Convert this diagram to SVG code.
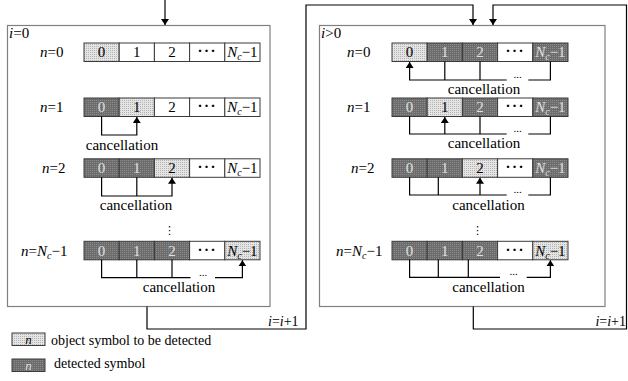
<svg xmlns="http://www.w3.org/2000/svg" width="628" height="381" viewBox="0 0 628 381">
  <defs>
    <!-- stipple fills for the two symbol states -->
    <pattern id="pat-obj" width="2" height="2" patternUnits="userSpaceOnUse">
      <rect width="2" height="2" fill="#e4e4e4"/>
      <rect width="1" height="1" fill="#b4b4b4"/>
    </pattern>
    <pattern id="pat-det" width="2" height="2" patternUnits="userSpaceOnUse">
      <rect width="2" height="2" fill="#6c6c6c"/>
      <rect width="1" height="1" fill="#8c8c8c"/>
    </pattern>
    <marker id="arr" viewBox="0 0 6 8" refX="6" refY="4" markerWidth="6" markerHeight="8" markerUnits="userSpaceOnUse" orient="auto">
      <path d="M0 0 L6 4 L0 8 Z" fill="#000"/>
    </marker>
  </defs>
  <style>
    text { font-family: "Liberation Serif", "Times New Roman", serif; font-size: 15px; fill: #000; }
    .it { font-style: italic; }
    .c { text-anchor: middle; }
    .panel { fill: #fff; stroke: #808080; stroke-width: 1.2; }
    .cell { stroke: #3a3a3a; stroke-width: 1; }
    .w { fill: #fff; }
    .o { fill: url(#pat-obj); }
    .d { fill: url(#pat-det); }
    .dt { fill: #e0e0e0; }
    .dots { font-weight: bold; letter-spacing: 1.5px; }
    .ell { font-size: 11px; text-anchor: middle; }
    .ln { fill: none; stroke: #000; stroke-width: 1.2; }
    .ar { marker-end: url(#arr); }
    .sub { font-size: 10px; }
  </style>

  <rect width="628" height="381" fill="#fff"/>

  <!-- panel boxes -->
  <g id="panel-first">
    <rect class="panel" x="7.5" y="25.5" width="262.5" height="281"/>
    <text x="9" y="38"><tspan class="it">i</tspan>=0</text>
  </g>
  <g id="panel-iter">
    <rect class="panel" x="319.5" y="25.5" width="285.5" height="281"/>
    <text x="321" y="38"><tspan class="it">i</tspan>&gt;0</text>
  </g>

  <!-- left panel rows -->
  <g id="L-n0">
    <text x="40" y="57"><tspan class="it">n</tspan>=0</text>
    <rect class="cell o" x="84" y="43" width="35.2" height="18.5"/>
    <rect class="cell w" x="119.2" y="43" width="35.2" height="18.5"/>
    <rect class="cell w" x="154.4" y="43" width="35.2" height="18.5"/>
    <rect class="cell w" x="189.6" y="43" width="35.2" height="18.5"/>
    <rect class="cell w" x="224.8" y="43" width="35.2" height="18.5"/>
    <text class="c" x="101.6" y="57.3">0</text>
    <text class="c" x="136.8" y="57.3">1</text>
    <text class="c" x="172" y="57.3">2</text>
    <text class="c dots" x="207.2" y="56.3">···</text>
    <text class="c" x="242.4" y="57.3"><tspan class="it">N</tspan><tspan class="it sub" dy="3">c</tspan><tspan dy="-3">−1</tspan></text>
  </g>
  <g id="L-n1">
    <text x="40" y="112"><tspan class="it">n</tspan>=1</text>
    <rect class="cell d" x="84" y="98" width="35.2" height="18.5"/>
    <rect class="cell o" x="119.2" y="98" width="35.2" height="18.5"/>
    <rect class="cell w" x="154.4" y="98" width="35.2" height="18.5"/>
    <rect class="cell w" x="189.6" y="98" width="35.2" height="18.5"/>
    <rect class="cell w" x="224.8" y="98" width="35.2" height="18.5"/>
    <text class="c dt" x="101.6" y="112.3">0</text>
    <text class="c" x="136.8" y="112.3">1</text>
    <text class="c" x="172" y="112.3">2</text>
    <text class="c dots" x="207.2" y="111.3">···</text>
    <text class="c" x="242.4" y="112.3"><tspan class="it">N</tspan><tspan class="it sub" dy="3">c</tspan><tspan dy="-3">−1</tspan></text>
    <text class="c" x="122" y="150">cancellation</text>
  </g>
  <g id="L-n2">
    <text x="42" y="173"><tspan class="it">n</tspan>=2</text>
    <rect class="cell d" x="84" y="158.8" width="35.2" height="18.5"/>
    <rect class="cell d" x="119.2" y="158.8" width="35.2" height="18.5"/>
    <rect class="cell o" x="154.4" y="158.8" width="35.2" height="18.5"/>
    <rect class="cell w" x="189.6" y="158.8" width="35.2" height="18.5"/>
    <rect class="cell w" x="224.8" y="158.8" width="35.2" height="18.5"/>
    <text class="c dt" x="101.6" y="173.1">0</text>
    <text class="c dt" x="136.8" y="173.1">1</text>
    <text class="c" x="172" y="173.1">2</text>
    <text class="c dots" x="207.2" y="172.1">···</text>
    <text class="c" x="242.4" y="173.1"><tspan class="it">N</tspan><tspan class="it sub" dy="3">c</tspan><tspan dy="-3">−1</tspan></text>
    <text class="c" x="136" y="210">cancellation</text>
  </g>
  <text x="169.5" y="234" class="c" style="font-family:'DejaVu Sans',sans-serif;font-size:11px">⋮</text>
  <g id="L-nlast">
    <text x="21" y="255.5"><tspan class="it">n</tspan>=<tspan class="it">N</tspan><tspan class="it sub" dy="3">c</tspan><tspan dy="-3">−1</tspan></text>
    <rect class="cell d" x="84" y="241.3" width="35.2" height="18.5"/>
    <rect class="cell d" x="119.2" y="241.3" width="35.2" height="18.5"/>
    <rect class="cell d" x="154.4" y="241.3" width="35.2" height="18.5"/>
    <rect class="cell w" x="189.6" y="241.3" width="35.2" height="18.5"/>
    <rect class="cell o" x="224.8" y="241.3" width="35.2" height="18.5"/>
    <text class="c dt" x="101.6" y="255.6">0</text>
    <text class="c dt" x="136.8" y="255.6">1</text>
    <text class="c dt" x="172" y="255.6">2</text>
    <text class="c dots" x="207.2" y="254.6">···</text>
    <text class="c" x="242.4" y="255.6"><tspan class="it">N</tspan><tspan class="it sub" dy="3">c</tspan><tspan dy="-3">−1</tspan></text>
    <text class="ell" x="203" y="275.5">...</text>
    <text class="c" x="179" y="292">cancellation</text>
  </g>

  <!-- right panel rows -->
  <g id="R-n0">
    <text x="347" y="57"><tspan class="it">n</tspan>=0</text>
    <rect class="cell o" x="392" y="43" width="35.2" height="18.5"/>
    <rect class="cell d" x="427.2" y="43" width="35.2" height="18.5"/>
    <rect class="cell d" x="462.4" y="43" width="35.2" height="18.5"/>
    <rect class="cell w" x="497.6" y="43" width="35.2" height="18.5"/>
    <rect class="cell d" x="532.8" y="43" width="35.2" height="18.5"/>
    <text class="c" x="409.6" y="57.3">0</text>
    <text class="c dt" x="444.8" y="57.3">1</text>
    <text class="c dt" x="480" y="57.3">2</text>
    <text class="c dots" x="515.2" y="56.3">···</text>
    <text class="c dt" x="550.4" y="57.3"><tspan class="it">N</tspan><tspan class="it sub" dy="3">c</tspan><tspan dy="-3">−1</tspan></text>
    <text class="ell" x="517.5" y="78">...</text>
    <text class="c" x="484" y="94">cancellation</text>
  </g>
  <g id="R-n1">
    <text x="347" y="112"><tspan class="it">n</tspan>=1</text>
    <rect class="cell d" x="392" y="98" width="35.2" height="18.5"/>
    <rect class="cell o" x="427.2" y="98" width="35.2" height="18.5"/>
    <rect class="cell d" x="462.4" y="98" width="35.2" height="18.5"/>
    <rect class="cell w" x="497.6" y="98" width="35.2" height="18.5"/>
    <rect class="cell d" x="532.8" y="98" width="35.2" height="18.5"/>
    <text class="c dt" x="409.6" y="112.3">0</text>
    <text class="c" x="444.8" y="112.3">1</text>
    <text class="c dt" x="480" y="112.3">2</text>
    <text class="c dots" x="515.2" y="111.3">···</text>
    <text class="c dt" x="550.4" y="112.3"><tspan class="it">N</tspan><tspan class="it sub" dy="3">c</tspan><tspan dy="-3">−1</tspan></text>
    <text class="ell" x="517.5" y="132">...</text>
    <text class="c" x="484" y="148">cancellation</text>
  </g>
  <g id="R-n2">
    <text x="351" y="173"><tspan class="it">n</tspan>=2</text>
    <rect class="cell d" x="392" y="158.8" width="35.2" height="18.5"/>
    <rect class="cell d" x="427.2" y="158.8" width="35.2" height="18.5"/>
    <rect class="cell o" x="462.4" y="158.8" width="35.2" height="18.5"/>
    <rect class="cell w" x="497.6" y="158.8" width="35.2" height="18.5"/>
    <rect class="cell d" x="532.8" y="158.8" width="35.2" height="18.5"/>
    <text class="c dt" x="409.6" y="173.1">0</text>
    <text class="c dt" x="444.8" y="173.1">1</text>
    <text class="c" x="480" y="173.1">2</text>
    <text class="c dots" x="515.2" y="172.1">···</text>
    <text class="c dt" x="550.4" y="173.1"><tspan class="it">N</tspan><tspan class="it sub" dy="3">c</tspan><tspan dy="-3">−1</tspan></text>
    <text class="ell" x="517.5" y="193">...</text>
    <text class="c" x="488.5" y="210">cancellation</text>
  </g>
  <text x="477.5" y="234" class="c" style="font-family:'DejaVu Sans',sans-serif;font-size:11px">⋮</text>
  <g id="R-nlast">
    <text x="336" y="255.5"><tspan class="it">n</tspan>=<tspan class="it">N</tspan><tspan class="it sub" dy="3">c</tspan><tspan dy="-3">−1</tspan></text>
    <rect class="cell d" x="392" y="241.3" width="35.2" height="18.5"/>
    <rect class="cell d" x="427.2" y="241.3" width="35.2" height="18.5"/>
    <rect class="cell d" x="462.4" y="241.3" width="35.2" height="18.5"/>
    <rect class="cell w" x="497.6" y="241.3" width="35.2" height="18.5"/>
    <rect class="cell o" x="532.8" y="241.3" width="35.2" height="18.5"/>
    <text class="c dt" x="409.6" y="255.6">0</text>
    <text class="c dt" x="444.8" y="255.6">1</text>
    <text class="c dt" x="480" y="255.6">2</text>
    <text class="c dots" x="515.2" y="254.6">···</text>
    <text class="c" x="550.4" y="255.6"><tspan class="it">N</tspan><tspan class="it sub" dy="3">c</tspan><tspan dy="-3">−1</tspan></text>
    <text class="ell" x="513.5" y="275">...</text>
    <text class="c" x="488.5" y="292">cancellation</text>
  </g>

  <!-- loop labels -->
  <text x="268" y="326" style="font-size:14px"><tspan class="it">i</tspan>=<tspan class="it">i</tspan>+1</text>
  <text x="626" y="326" style="font-size:14px;text-anchor:end"><tspan class="it">i</tspan>=<tspan class="it">i</tspan>+1</text>

  <!-- legend -->
  <g id="legend-object">
    <rect class="cell o" x="12" y="333" width="33" height="12.5"/>
    <text class="c it" x="28.5" y="344" style="font-size:13px">n</text>
    <text x="51" y="345" style="font-size:14px">object symbol to be detected</text>
  </g>
  <g id="legend-detected">
    <rect class="cell d" x="12" y="359" width="33" height="12.5"/>
    <text class="c it dt" x="28.5" y="370" style="font-size:13px">n</text>
    <text x="54" y="368" style="font-size:14px">detected symbol</text>
  </g>

  <!-- connectors -->
  <g id="connectors">
    <!-- flow into and around the panels -->
    <path class="ln ar" d="M165 0 V25"/>
    <path class="ln ar" d="M147 306.5 V329 H306 V5 H473 V25"/>
    <path class="ln ar" d="M473.3 306.5 V329 H626.5 V5 H493 V25"/>

    <!-- left panel cancellation links -->
    <path class="ln ar" d="M101.6 116.5 V135 H136.8 V117"/>
    <path class="ln ar" d="M101.6 177.3 V196 H172 V177.8"/>
    <path class="ln" d="M136.8 177.3 V196"/>
    <path class="ln" d="M101.6 259.8 V277.7 H190.5"/>
    <path class="ln" d="M136.8 259.8 V277.7"/>
    <path class="ln" d="M172 259.8 V277.7"/>
    <path class="ln ar" d="M215 277.7 H242.4 V260.3"/>

    <!-- right panel cancellation links -->
    <path class="ln ar" d="M506.7 80 H409.6 V62"/>
    <path class="ln" d="M444.8 61.5 V80"/>
    <path class="ln" d="M480 61.5 V80"/>
    <path class="ln" d="M550.4 61.5 V80 H528.3"/>

    <path class="ln" d="M409.6 116.5 V134 H506.7"/>
    <path class="ln ar" d="M444.8 134 V117"/>
    <path class="ln" d="M480 116.5 V134"/>
    <path class="ln" d="M550.4 116.5 V134 H528.3"/>

    <path class="ln" d="M409.6 177.3 V195 H506.7"/>
    <path class="ln" d="M438.3 177.3 V195"/>
    <path class="ln ar" d="M480 195 V177.8"/>
    <path class="ln" d="M550.4 177.3 V195 H528.3"/>

    <path class="ln" d="M409.6 259.8 V277.3 H500"/>
    <path class="ln" d="M438.3 259.8 V277.3"/>
    <path class="ln" d="M468.3 259.8 V277.3"/>
    <path class="ln ar" d="M526.7 277.3 H550.4 V260.3"/>
  </g>
</svg>
